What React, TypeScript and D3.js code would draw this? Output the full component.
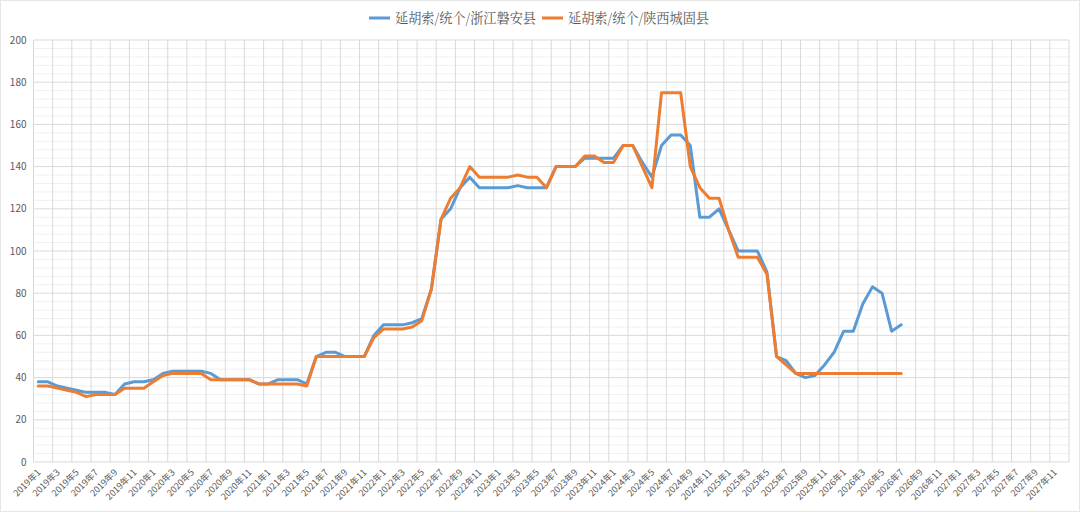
import * as d3 from 'd3';
import React, { useEffect, useRef } from 'react';

const WIDTH = 1080;
const HEIGHT = 512;

const YEARS = [2019, 2020, 2021, 2022, 2023, 2024, 2025, 2026, 2027];
const MONTHS = [1, 2, 3, 4, 5, 6, 7, 8, 9, 10, 11, 12];
const CATEGORIES = YEARS.flatMap(y => MONTHS.map(m => `${y}年${m}`));

const Y_TICKS = [0, 20, 40, 60, 80, 100, 120, 140, 160, 180, 200];

const SERIES_NAMES = ["延胡索/统个/浙江磐安县", "延胡索/统个/陕西城固县"];
const SERIES_COLORS = ["#5b9bd5", "#ed7d31"];

// 浙江磐安县, 2019年1 .. 2026年7
const PANAN = [
  38, 38, 36, 35, 34, 33, 33, 33, 32, 37, 38, 38,
  39, 42, 43, 43, 43, 43, 42, 39, 39, 39, 39, 37,
  37, 39, 39, 39, 37, 50, 52, 52, 50, 50, 50, 60,
  65, 65, 65, 66, 68, 82, 115, 120, 130, 135, 130, 130,
  130, 130, 131, 130, 130, 130, 140, 140, 140, 144, 144, 144,
  144, 150, 150, 142, 135, 150, 155, 155, 150, 116, 116, 120,
  110, 100, 100, 100, 90, 50, 48, 42, 40, 41, 46, 52,
  62, 62, 75, 83, 80, 62, 65
];

// 陕西城固县
const CHENGGU = [
  36, 36, 35, 34, 33, 31, 32, 32, 32, 35, 35, 35,
  38, 41, 42, 42, 42, 42, 39, 39, 39, 39, 39, 37,
  37, 37, 37, 37, 36, 50, 50, 50, 50, 50, 50, 59,
  63, 63, 63, 64, 67, 82, 115, 125, 130, 140, 135, 135,
  135, 135, 136, 135, 135, 130, 140, 140, 140, 145, 145, 142,
  142, 150, 150, 140, 130, 175, 175, 175, 140, 130, 125, 125,
  110, 97, 97, 97, 89, 50, 46, 42, 42, 42, 42, 42,
  42, 42, 42, 42, 42, 42, 42
];

const App: React.FC = () => {
  const svgRef = useRef<SVGSVGElement>(null);

  useEffect(() => {
    if (!svgRef.current) { return; }
    document.body.style.margin = "0";

    const svg = d3.select(svgRef.current);
    svg.selectAll("*").remove();

    const margin = { top: 40, right: 11, bottom: 50, left: 33.5 };
    const chartWidth = WIDTH - margin.left - margin.right;
    const chartHeight = HEIGHT - margin.top - margin.bottom;
    const labelFont = "'Noto Sans CJK SC', 'Noto Sans', sans-serif";

    // chart frame
    svg.append("rect")
      .attr("x", 0.5).attr("y", 0.5)
      .attr("width", WIDTH - 1).attr("height", HEIGHT - 1)
      .attr("fill", "#ffffff")
      .attr("stroke", "#e6e6e6");

    const xScale = d3.scaleBand<string>()
      .domain(CATEGORIES)
      .range([0, chartWidth])
      .padding(0);

    const yScale = d3.scaleLinear()
      .domain([0, 200])
      .range([chartHeight, 0]);

    const chart = svg.append("g")
      .attr("transform", `translate(${margin.left},${margin.top})`);

    // minor horizontal grid
    chart.append("g")
      .selectAll("line")
      .data(d3.range(0, 201, 4).filter(v => v % 20 !== 0))
      .enter().append("line")
      .attr("x1", 0).attr("x2", chartWidth)
      .attr("y1", v => yScale(v)).attr("y2", v => yScale(v))
      .attr("stroke", "#f0f0f0")
      .attr("stroke-width", 1);

    // major horizontal grid
    chart.append("g")
      .selectAll("line")
      .data(Y_TICKS)
      .enter().append("line")
      .attr("x1", 0).attr("x2", chartWidth)
      .attr("y1", v => yScale(v)).attr("y2", v => yScale(v))
      .attr("stroke", "#d9d9d9")
      .attr("stroke-width", 1);

    // vertical grid, every second category boundary
    const boundaries = CATEGORIES.filter((_, i) => i % 2 === 0)
      .map(c => xScale(c)!)
      .concat([chartWidth]);
    chart.append("g")
      .selectAll("line")
      .data(boundaries)
      .enter().append("line")
      .attr("x1", x => x).attr("x2", x => x)
      .attr("y1", 0).attr("y2", chartHeight)
      .attr("stroke", "#d9d9d9")
      .attr("stroke-width", 1);

    // y labels
    chart.append("g")
      .selectAll("text")
      .data(Y_TICKS)
      .enter().append("text")
      .attr("x", -7)
      .attr("y", v => yScale(v))
      .attr("dy", "0.35em")
      .attr("text-anchor", "end")
      .style("font-family", labelFont)
      .style("font-size", "10px")
      .style("fill", "#595959")
      .text(v => `${v}`);

    // x labels
    const half = xScale.bandwidth() / 2;
    chart.append("g")
      .selectAll("text")
      .data(CATEGORIES.filter((_, i) => i % 2 === 0))
      .enter().append("text")
      .attr("transform", c => `translate(${xScale(c)! + half + 3},${chartHeight + 11}) rotate(-45)`)
      .attr("text-anchor", "end")
      .style("font-family", labelFont)
      .style("font-size", "9px")
      .style("fill", "#595959")
      .text(c => c);

    // lines
    [PANAN, CHENGGU].forEach((values, si) => {
      const line = d3.line<number>()
        .x((_, i) => xScale(CATEGORIES[i])! + half)
        .y(v => yScale(v));
      chart.append("path")
        .datum(values)
        .attr("fill", "none")
        .attr("stroke", SERIES_COLORS[si])
        .attr("stroke-width", 3)
        .attr("stroke-linejoin", "round")
        .attr("stroke-linecap", "round")
        .attr("d", line);
    });

    // legend
    const legend = svg.append("g").attr("transform", "translate(369,18)");
    const legendX = [0, 173];
    SERIES_NAMES.forEach((name, si) => {
      const item = legend.append("g").attr("transform", `translate(${legendX[si]},0)`);
      item.append("line")
        .attr("x1", 0).attr("x2", 21)
        .attr("y1", 0).attr("y2", 0)
        .attr("stroke", SERIES_COLORS[si])
        .attr("stroke-width", 3);
      item.append("text")
        .attr("x", 26)
        .attr("y", 0)
        .attr("dy", "0.35em")
        .attr("textLength", 141)
        .attr("lengthAdjust", "spacingAndGlyphs")
        .style("font-family", "'Noto Serif CJK SC', 'Noto Sans CJK SC', serif")
        .style("font-size", "14px")
        .style("fill", "#595959")
        .text(name);
    });
  }, []);

  return (
    <div style={{ position: "absolute", left: 0, top: 0 }}>
      <svg ref={svgRef} width={WIDTH} height={HEIGHT} />
    </div>
  );
};

export default App;
